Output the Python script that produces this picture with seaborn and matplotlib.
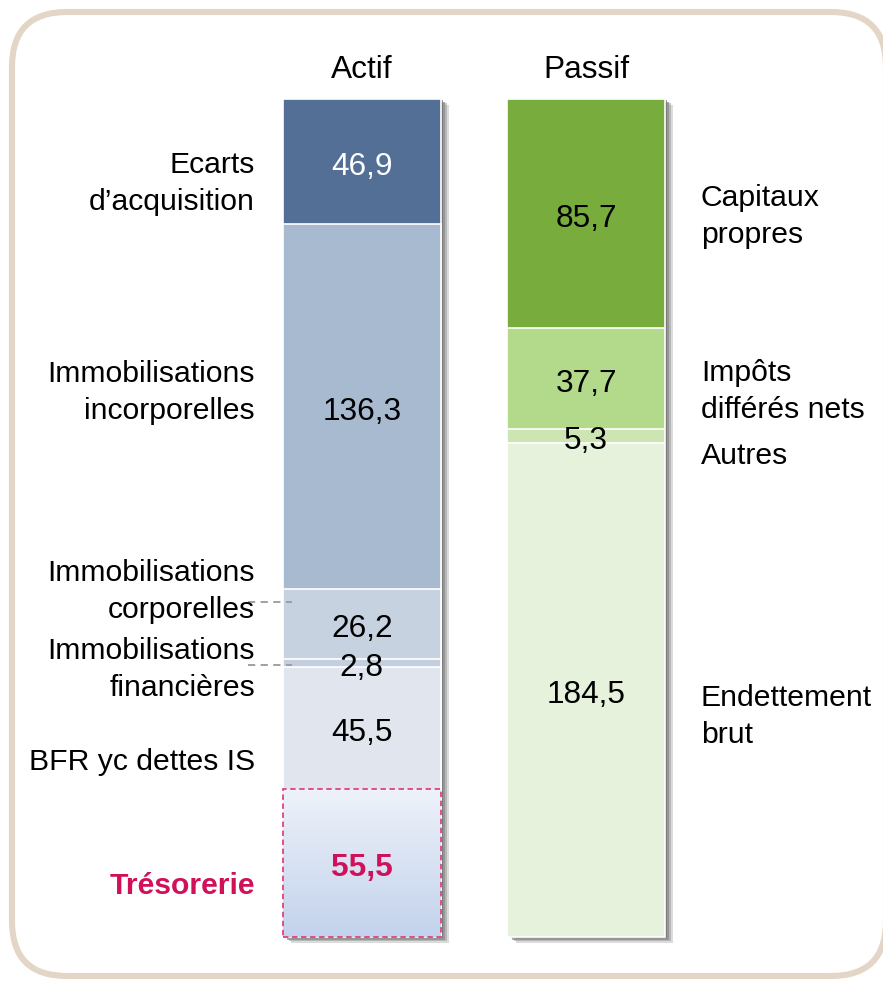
import numpy as np
import matplotlib.pyplot as plt
import matplotlib.patheffects as pe
from matplotlib.patches import FancyBboxPatch
from matplotlib.colors import LinearSegmentedColormap
import seaborn as sns

sides = ['Actif', 'Passif']

# segments listed from the bottom of each bar up to the top
actif_labels = ['Trésorerie', 'BFR yc dettes IS', 'Immobilisations\nfinancières',
                'Immobilisations\ncorporelles', 'Immobilisations\nincorporelles',
                'Ecarts\nd\u2019acquisition']
actif_values = [55.5, 45.5, 2.8, 26.2, 136.3, 46.9]
actif_text = ['55,5', '45,5', '2,8', '26,2', '136,3', '46,9']

passif_labels = ['Endettement\nbrut', 'Autres', 'Impôts\ndifférés nets', 'Capitaux\npropres']
passif_values = [184.5, 5.3, 37.7, 85.7]
passif_text = ['184,5', '5,3', '37,7', '85,7']

# styles
actif_colors = ['#C6D5EC', '#E1E6EE', '#C3CFDF', '#C7D2E1', '#A8BAD0', '#536F96']
passif_colors = ['#E6F2DC', '#CDE5B3', '#B3D98A', '#78AC3C']
CRIMSON = '#D1105A'
# label y positions (data units), a bit off the segment middles like the original
actif_label_y = [20.2, 66.9, 101.3, 130.4, 204.8, 282.9]
passif_label_y = [83.7, 181.2, 205.2, 270.6]
leader_y = [125.2, 101.6]

sns.set_theme(style='white')
plt.rcParams['font.family'] = ['Liberation Sans', 'DejaVu Sans']

fig = plt.figure(figsize=(8.83, 9.87), dpi=100)

# rounded frame around the whole chart
frame = FancyBboxPatch((0.12, 0.10), 8.74, 9.64, boxstyle='round,pad=0,rounding_size=0.55',
                       transform=fig.dpi_scale_trans, facecolor='white', edgecolor='#E4D6C6',
                       linewidth=4.4, zorder=-5,
                       path_effects=[pe.SimplePatchShadow(offset=(-1.5, -1.5), shadow_rgbFace='#B8B8C0', alpha=0.5),
                                     pe.Normal()])
fig.patches.append(frame)

W = 0.702
ax = fig.add_axes([283 / 883, 49 / 987, 382 / 883, 838 / 987])
ax.patch.set_alpha(0)


def stack(side, values, colors):
    cum = np.cumsum(values)
    drawn = {}
    for i in range(len(values) - 1, -1, -1):
        sns.barplot(x=[side], y=[cum[i]], order=sides, color=colors[i], width=W,
                    saturation=1, edgecolor='white', linewidth=1.2, errorbar=None, ax=ax)
        drawn[i] = ax.patches[-1]
    top = drawn[len(values) - 1]
    top.set_clip_on(False)
    top.set_path_effects([
        pe.SimplePatchShadow(offset=(6, -4), shadow_rgbFace='#C4C4C4', alpha=0.6),
        pe.SimplePatchShadow(offset=(4.5, -3), shadow_rgbFace='#A0A0A0', alpha=0.6),
        pe.SimplePatchShadow(offset=(3, -2), shadow_rgbFace='#888888', alpha=0.7),
        pe.SimplePatchShadow(offset=(1.5, -1), shadow_rgbFace='#707070', alpha=0.7),
        pe.Normal()])
    return cum, drawn


a_cum, a_patches = stack('Actif', actif_values, actif_colors)
p_cum, p_patches = stack('Passif', passif_values, passif_colors)

# gradient fill + dashed border for Trésorerie
p = a_patches[0]
x0, y0, w, h = p.get_x(), p.get_y(), p.get_width(), p.get_height()
grad = np.linspace(0, 1, 256).reshape(-1, 1)
cmap = LinearSegmentedColormap.from_list('tres', ['#C3D3EC', '#EEF2FA'])
im = ax.imshow(grad, extent=(x0, x0 + w, y0, y0 + h), origin='lower', cmap=cmap,
               aspect='auto', zorder=2)
im.set_clip_path(p)
p.set_facecolor('none')
p.set_edgecolor('#E0437C')
p.set_linestyle((0, (3, 2)))
p.set_linewidth(1.3)
p.set_zorder(3)
p.set_clip_on(False)

total = a_cum[-1]
ax.set_xlim(-W / 2, 1 + W / 2)
ax.set_ylim(0, total)
ax.axis('off')


def put(x, y, s, dy, **kw):
    ax.annotate(s, (x, y), xytext=(0, dy), textcoords='offset points',
                annotation_clip=False, zorder=5, **kw)


# headers
for i, s in enumerate(sides):
    put(i, total + 12.3, s, -2.2, ha='center', va='center', fontsize=22.8, color='black')

# values in the middle of each segment
a_mid = a_cum - np.array(actif_values) / 2
p_mid = p_cum - np.array(passif_values) / 2
for i, t in enumerate(actif_text):
    col, wt = 'black', 'normal'
    if i == 0:
        col, wt = CRIMSON, 'bold'
    elif i == len(actif_text) - 1:
        col = 'white'
    put(0, a_mid[i], t, -3, ha='center', va='center', fontsize=22.8, color=col, fontweight=wt)
for i, t in enumerate(passif_text):
    put(1, p_mid[i], t, -3, ha='center', va='center', fontsize=22.8, color='black')

# category labels
left_x = -W / 2 - 0.125
right_x = 1 + W / 2 + 0.160
for i, lab in enumerate(actif_labels):
    col, wt = 'black', 'normal'
    if i == 0:
        col, wt = CRIMSON, 'bold'
    put(left_x, actif_label_y[i], lab, -1.8, ha='right', va='center', fontsize=21.7,
        color=col, fontweight=wt, linespacing=1.38)
for i, lab in enumerate(passif_labels):
    put(right_x, passif_label_y[i], lab, -1.8, ha='left', va='center', fontsize=21.7,
        color='black', linespacing=1.38)

# dashed leader lines for the two thin segments
for y in leader_y:
    ax.plot([-W / 2 - 0.156, -W / 2 + 0.04], [y, y], ls=(0, (4, 3)), color='#9A9A9A',
            lw=1.3, clip_on=False, zorder=4)

fig.savefig('out.png', dpi=100)
